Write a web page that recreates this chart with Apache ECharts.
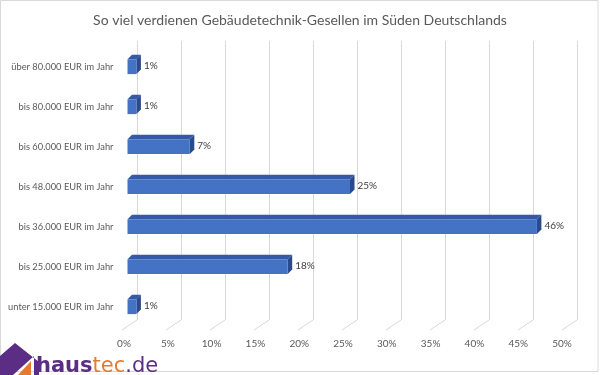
<!DOCTYPE html>
<html>
<head>
<meta charset="utf-8">
<script src="https://cdn.jsdelivr.net/npm/echarts@6/dist/echarts.min.js"></script>
<style>
html,body{margin:0;padding:0;background:#fff;}
#c{width:600px;height:375px;}
</style>
</head>
<body>
<div id="c"></div>
<script>
var titleText = 'So viel verdienen Gebäudetechnik-Gesellen im Süden Deutschlands';
var categories = [
  'über 80.000 EUR im Jahr',
  'bis 80.000 EUR im Jahr',
  'bis 60.000 EUR im Jahr',
  'bis 48.000 EUR im Jahr',
  'bis 36.000 EUR im Jahr',
  'bis 25.000 EUR im Jahr',
  'unter 15.000 EUR im Jahr'
];
var shares = [1, 1, 7, 25, 46, 18, 1];
var tickValues = [0, 5, 10, 15, 20, 25, 30, 35, 40, 45, 50];

var FRONT = '#4472c4', TOP = '#3359a8', SIDE = '#2a4a8c';
var GRIDC = '#d9d9d9', TXT = '#595959';
var FONT = 'Lato, "Open Sans", sans-serif';
var PURPLE = '#5b2d84', ORANGE = '#e8782a';

var chart = echarts.init(document.getElementById('c'), null, {renderer: 'canvas'});

function barItem(params, api) {
  var cat = api.value(0), v = api.value(1);
  var p0 = api.coord([0, cat]);
  var p1 = api.coord([v, cat]);
  var h = api.size([0, 1])[1] * 0.37;
  var d = 4.5;
  var x0 = p0[0], x1 = p1[0], yT = p0[1] - h / 2, yB = p0[1] + h / 2;
  return {
    type: 'group',
    children: [
      {type: 'polygon', shape: {points: [[x0, yT], [x1, yT], [x1 + d, yT - d], [x0 + d, yT - d]]}, style: {fill: TOP}},
      {type: 'polygon', shape: {points: [[x1, yT], [x1 + d, yT - d], [x1 + d, yB - d], [x1, yB]]}, style: {fill: SIDE}},
      {type: 'rect', shape: {x: x0, y: yT, width: x1 - x0, height: h}, style: {fill: FRONT}},
      {type: 'text', style: {x: x1 + d + 3, y: p0[1] - 1, text: Math.round(v) + '%', fill: '#404040', font: '10px ' + FONT, textVerticalAlign: 'middle'}}
    ]
  };
}

function floorLine(params, api) {
  var p = api.coord([api.value(0), 0]);
  return {
    type: 'line',
    shape: {x1: p[0], y1: p[1], x2: p[0] - 15, y2: p[1] + 10},
    style: {stroke: GRIDC, lineWidth: 1}
  };
}

chart.setOption({
  animation: false,
  backgroundColor: '#ffffff',
  title: {
    text: titleText, left: 'center', top: 8,
    textStyle: {fontFamily: FONT, fontSize: 14, fontWeight: 'normal', color: TXT}
  },
  grid: [
    {left: 127.5, right: 27.5, top: 46.7, height: 280},
    {left: 137, right: 23, top: 41, bottom: 55},
    {left: 124, right: 38, top: 330, bottom: 42}
  ],
  xAxis: [
    {gridIndex: 0, type: 'value', min: 0, max: 50, show: false},
    {gridIndex: 1, type: 'value', min: 0, max: 50, interval: 5,
     axisLabel: {show: false}, axisLine: {show: false}, axisTick: {show: false},
     splitLine: {show: true, lineStyle: {color: GRIDC, width: 1}}},
    {gridIndex: 2, type: 'value', min: 0, max: 50, interval: 5,
     axisLine: {show: false}, axisTick: {show: false}, splitLine: {show: false},
     axisLabel: {formatter: '{value}%', color: TXT, fontFamily: FONT, fontSize: 10, margin: 6}}
  ],
  yAxis: [
    {gridIndex: 0, type: 'category', data: categories, inverse: true,
     axisLine: {show: false}, axisTick: {show: false}, splitLine: {show: false},
     axisLabel: {color: TXT, fontFamily: FONT, fontSize: 9.3, margin: 14, padding: [4, 0, 0, 0]}},
    {gridIndex: 1, type: 'value', min: 0, max: 1, show: false},
    {gridIndex: 2, type: 'value', min: 0, max: 1, show: false}
  ],
  graphic: [
    {type: 'rect', shape: {x: 0.5, y: 0.5, width: 597.5, height: 371}, style: {fill: 'none', stroke: GRIDC, lineWidth: 1}, z: 0},
    {type: 'polygon', shape: {points: [[0, 375], [0, 356], [15, 343], [39, 362], [39, 375], [34, 375], [34, 356], [13, 375]]}, style: {fill: PURPLE}, z: 10},
    {type: 'polygon', shape: {points: [[18, 375], [31, 375], [31, 361]]}, style: {fill: ORANGE}, z: 10},
    {type: 'text', left: 36, top: 356, z: 10,
     style: {
       text: '{a|haus}{b|tec}{a2|.de}',
       rich: {
         a: {fill: PURPLE, fontFamily: '"DejaVu Sans", sans-serif', fontSize: 21, fontWeight: 'bold'},
         b: {fill: ORANGE, fontFamily: '"DejaVu Sans", sans-serif', fontSize: 21, fontWeight: 'normal'},
         a2: {fill: PURPLE, fontFamily: '"DejaVu Sans", sans-serif', fontSize: 21, fontWeight: 'normal'}
       }
     }}
  ],
  series: [
    {type: 'custom', xAxisIndex: 1, yAxisIndex: 1, renderItem: floorLine, data: tickValues.map(function (t) { return [t]; }), silent: true, z: 1},
    {type: 'custom', xAxisIndex: 0, yAxisIndex: 0, renderItem: barItem,
     encode: {x: 1, y: 0},
     data: categories.map(function (c, i) { return [i, shares[i]]; }), z: 5}
  ]
});
</script>
</body>
</html>
